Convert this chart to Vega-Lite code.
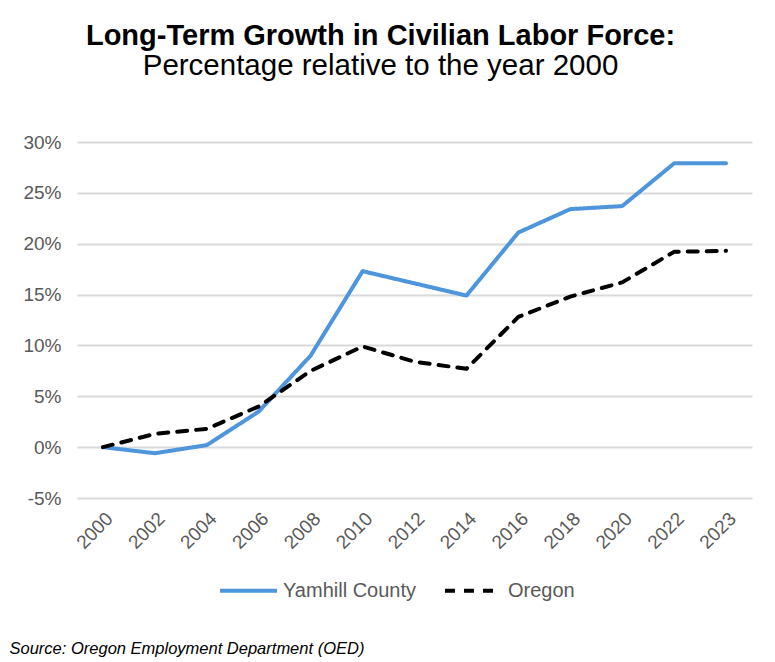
{
  "$schema": "https://vega.github.io/schema/vega-lite/v6.json",
  "width": 675,
  "height": 356,
  "autosize": {"type": "none"},
  "padding": {"left": 77, "top": 142, "right": 23, "bottom": 164},
  "background": "white",
  "title": {
    "text": "Long-Term Growth in Civilian Labor Force:",
    "subtitle": "Percentage relative to the year 2000",
    "anchor": "middle",
    "frame": "bounds",
    "font": "Liberation Sans",
    "fontSize": 29,
    "fontWeight": "bold",
    "color": "black",
    "subtitleFont": "Liberation Sans",
    "subtitleFontSize": 29.5,
    "subtitleColor": "black",
    "subtitlePadding": 1,
    "offset": 53
  },
  "data": {
    "values": [
      {"year": "2000", "series": "Yamhill County", "value": 0.0},
      {"year": "2002", "series": "Yamhill County", "value": -0.6},
      {"year": "2004", "series": "Yamhill County", "value": 0.2},
      {"year": "2006", "series": "Yamhill County", "value": 3.5},
      {"year": "2008", "series": "Yamhill County", "value": 9.0},
      {"year": "2010", "series": "Yamhill County", "value": 17.3},
      {"year": "2012", "series": "Yamhill County", "value": 16.1},
      {"year": "2014", "series": "Yamhill County", "value": 14.9},
      {"year": "2016", "series": "Yamhill County", "value": 21.1},
      {"year": "2018", "series": "Yamhill County", "value": 23.4},
      {"year": "2020", "series": "Yamhill County", "value": 23.7},
      {"year": "2022", "series": "Yamhill County", "value": 27.9},
      {"year": "2023", "series": "Yamhill County", "value": 27.9},
      {"year": "2000", "series": "Oregon", "value": 0.0},
      {"year": "2002", "series": "Oregon", "value": 1.3},
      {"year": "2004", "series": "Oregon", "value": 1.8},
      {"year": "2006", "series": "Oregon", "value": 4.0},
      {"year": "2008", "series": "Oregon", "value": 7.5},
      {"year": "2010", "series": "Oregon", "value": 9.9},
      {"year": "2012", "series": "Oregon", "value": 8.4},
      {"year": "2014", "series": "Oregon", "value": 7.7},
      {"year": "2016", "series": "Oregon", "value": 12.8},
      {"year": "2018", "series": "Oregon", "value": 14.8},
      {"year": "2020", "series": "Oregon", "value": 16.2},
      {"year": "2022", "series": "Oregon", "value": 19.2},
      {"year": "2023", "series": "Oregon", "value": 19.3}
    ]
  },
  "mark": {"type": "line", "strokeWidth": 4, "strokeCap": "round", "strokeJoin": "round"},
  "encoding": {
    "x": {
      "field": "year",
      "type": "ordinal",
      "scale": {"type": "point", "padding": 0.5},
      "axis": {
        "title": "Source: Oregon Employment Department (OED)",
        "titleAnchor": "start",
        "titleAlign": "left",
        "titleX": -68,
        "titleY": 155,
        "titleBaseline": "alphabetic",
        "titleFont": "Liberation Sans",
        "titleFontSize": 16.5,
        "titleFontStyle": "italic",
        "titleFontWeight": "normal",
        "titleColor": "black",
        "labelAngle": -45,
        "labelFont": "Liberation Sans",
        "labelFontSize": 19,
        "labelColor": "#595959",
        "labelPadding": 11,
        "domain": false,
        "ticks": false,
        "grid": false
      }
    },
    "y": {
      "field": "value",
      "type": "quantitative",
      "scale": {"domain": [-5, 30], "nice": false, "zero": false},
      "axis": {
        "title": null,
        "values": [-5, 0, 5, 10, 15, 20, 25, 30],
        "labelExpr": "datum.value + '%'",
        "labelFont": "Liberation Sans",
        "labelFontSize": 19,
        "labelColor": "#595959",
        "labelPadding": 16,
        "domain": false,
        "ticks": false,
        "grid": true,
        "gridColor": "#d9d9d9",
        "gridWidth": 2
      }
    },
    "color": {
      "field": "series",
      "type": "nominal",
      "sort": ["Yamhill County", "Oregon"],
      "scale": {"domain": ["Yamhill County", "Oregon"], "range": ["#4f95dc", "#000000"]},
      "legend": {
        "title": null,
        "orient": "none",
        "direction": "horizontal",
        "legendX": 141,
        "legendY": 418,
        "symbolType": "stroke",
        "symbolSize": 3249,
        "symbolStrokeWidth": 4,
        "labelFont": "Liberation Sans",
        "labelFontSize": 20,
        "labelColor": "#595959",
        "labelOffset": 4,
        "columnPadding": 20,
        "padding": 0
      }
    },
    "strokeDash": {
      "field": "series",
      "type": "nominal",
      "sort": ["Yamhill County", "Oregon"],
      "scale": {"domain": ["Yamhill County", "Oregon"], "range": [[1, 0], [10, 9]]},
      "legend": null
    }
  },
  "config": {"view": {"stroke": null}}
}
